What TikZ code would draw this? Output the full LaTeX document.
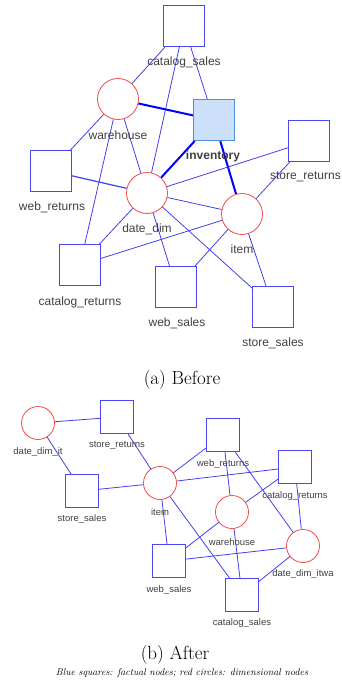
\documentclass[tikz,border=0pt]{standalone}
\usepackage{fontspec}
\newfontfamily\labfont{Liberation Sans}
\definecolor{factblue}{HTML}{4848F8}
\definecolor{dimred}{HTML}{F84848}
\definecolor{edgeblue}{HTML}{4040F0}
\definecolor{txtgray}{HTML}{404040}
\definecolor{invfill}{HTML}{CCE0FA}
\definecolor{invdraw}{HTML}{4A90E2}
\begin{document}
\begin{tikzpicture}[x=1pt,y=-1pt,
  fact/.style={draw=factblue,fill=white,minimum size=41pt,inner sep=0pt,line width=0.9pt},
  dimn/.style={circle,draw=dimred,fill=white,minimum size=41pt,inner sep=0pt,line width=0.8pt},
  sfact/.style={fact,minimum size=33pt},
  sdimn/.style={dimn,minimum size=33pt},
  lab/.style={font=\labfont\fontsize{12}{13}\selectfont,text=txtgray,inner sep=0pt},
  slab/.style={font=\labfont\fontsize{9.5}{10}\selectfont,text=txtgray,inner sep=0pt},
  edge/.style={draw=edgeblue,line width=0.8pt},
  tedge/.style={draw=blue,line width=2pt},
  captext/.style={font=\fontsize{19}{21}\selectfont,inner sep=0pt}]
\useasboundingbox (0,0) rectangle (342,683);
% ---------- top graph ----------
\node[fact] (cs) at (184,26) {};
\node[dimn] (wh) at (118,99) {};
\node[fact,fill=invfill,draw=invdraw,line width=1.2pt] (inv) at (214,120) {};
\node[fact] (sr) at (309,141) {};
\node[fact] (wr) at (51,171) {};
\node[dimn] (dd) at (147,193) {};
\node[dimn] (it) at (242,214) {};
\node[fact] (cr) at (80,265) {};
\node[fact] (ws) at (176,287) {};
\node[fact] (ss) at (273,307) {};
\draw[edge] (cs) -- (wh);
\draw[edge] (cs) -- (dd);
\draw[edge] (cs) -- (inv);
\draw[tedge] (wh) -- (inv);
\draw[edge] (wh) -- (wr);
\draw[edge] (wh) -- (cr);
\draw[edge] (wh) -- (dd);
\draw[tedge] (inv) -- (dd);
\draw[tedge] (inv) -- (it);
\draw[edge] (sr) -- (dd);
\draw[edge] (sr) -- (it);
\draw[edge,line width=1.2pt] (wr) -- (dd);
\draw[edge] (dd) -- (it);
\draw[edge] (dd) -- (cr);
\draw[edge] (dd) -- (ws);
\draw[edge] (dd) -- (ss);
\draw[edge] (it) -- (cr);
\draw[edge] (it) -- (ws);
\draw[edge] (it) -- (ss);
\node[lab] (lcs) at (184,62) {catalog\_sales};
\node[lab] (lwh) at (118,135) {warehouse};
\node[lab,font=\labfont\bfseries\fontsize{12}{13}\selectfont] (linv) at (213,156) {inventory};
\node[lab,anchor=east] (lsr) at (341,177) {store\_returns};
\node[lab] (lwr) at (52,207) {web\_returns};
\node[lab] (ldd) at (147,229) {date\_dim};
\node[lab] (lit) at (242,249) {item};
\node[lab] (lcr) at (80,302) {catalog\_returns};
\node[lab] (lws) at (177,323) {web\_sales};
\node[lab] (lss) at (273,343) {store\_sales};
\node[captext] (capa) at (182,380) {(a) Before};
% ---------- bottom graph ----------
\node[sdimn] (bdi) at (38,423) {};
\node[sfact] (bsr) at (117,417) {};
\node[sfact] (bss) at (82,491) {};
\node[sdimn] (bit) at (160,483) {};
\node[sfact] (bwr) at (223,435) {};
\node[sfact] (bcr) at (295,467) {};
\node[sdimn] (bwh) at (232,512) {};
\node[sdimn] (bdw) at (303,546) {};
\node[sfact] (bws) at (169,561) {};
\node[sfact] (bcs) at (242,595) {};
\draw[edge] (bdi) -- (bsr);
\draw[edge] (bdi) -- (bss);
\draw[edge] (bsr) -- (bit);
\draw[edge] (bss) -- (bit);
\draw[edge] (bit) -- (bwr);
\draw[edge] (bit) -- (bcr);
\draw[edge] (bit) -- (bws);
\draw[edge] (bit) -- (bcs);
\draw[edge] (bwr) -- (bwh);
\draw[edge] (bwr) -- (bdw);
\draw[edge] (bcr) -- (bwh);
\draw[edge] (bcr) -- (bdw);
\draw[edge] (bwh) -- (bws);
\draw[edge] (bwh) -- (bcs);
\draw[edge] (bdw) -- (bws);
\draw[edge] (bdw) -- (bcs);
\node[slab] (lbdi) at (38,452) {date\_dim\_it};
\node[slab] (lbsr) at (117,445) {store\_returns};
\node[slab] (lbss) at (82,519) {store\_sales};
\node[slab] (lbit) at (160,512) {item};
\node[slab] (lbwr) at (223,464) {web\_returns};
\node[slab] (lbcr) at (295,496) {catalog\_returns};
\node[slab] (lbwh) at (232,542) {warehouse};
\node[slab] (lbdw) at (303,574) {date\_dim\_itwa};
\node[slab] (lbws) at (169,590) {web\_sales};
\node[slab] (lbcs) at (242,623) {catalog\_sales};
\node[captext] (capb) at (175,655) {(b) After};
\node[inner sep=0pt,font=\itshape\fontsize{9.8}{11}\selectfont] (note) at (182,673) {Blue squares: factual nodes; red circles: dimensional nodes};
\end{tikzpicture}
\end{document}
